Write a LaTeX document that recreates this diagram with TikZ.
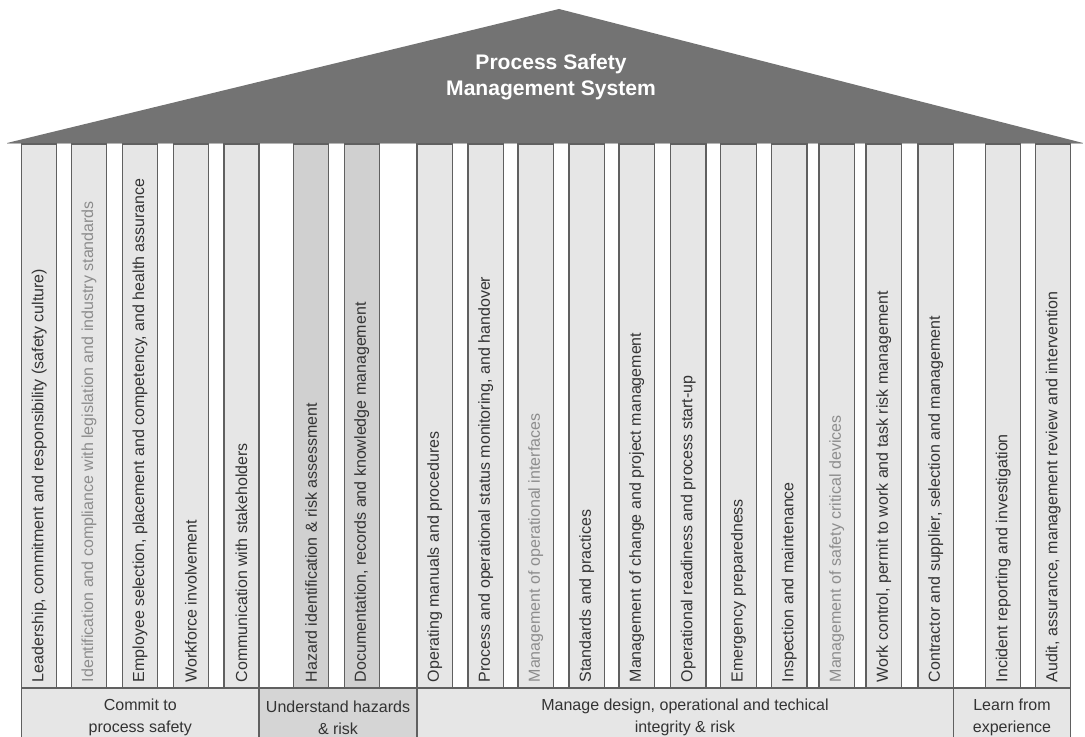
\documentclass[tikz,border=0pt]{standalone}
\usepackage{fontspec}
\setmainfont{Liberation Sans}
\definecolor{roofgray}{HTML}{737373}
\definecolor{roofedge}{HTML}{B4B4B4}
\definecolor{pillar}{HTML}{E6E6E6}
\definecolor{pillardark}{HTML}{D0D0D0}
\definecolor{banddark}{HTML}{D5D5D5}
\definecolor{edge}{HTML}{606060}
\definecolor{ink}{HTML}{333333}
\definecolor{faded}{HTML}{8C8C8C}
\begin{document}
\begin{tikzpicture}[x=0.75pt,y=-0.75pt,
  pillarbox/.style={draw=edge,line width=1.1pt},
  coltext/.style={rotate=90,anchor=west,inner sep=0pt,
    font=\fontsize{12}{14}\selectfont},
  bandbox/.style={draw=edge,line width=1.1pt},
  bandtext/.style={align=center,text=ink,inner sep=0pt,
    font=\fontsize{12}{16.5}\selectfont},
  rooftext/.style={align=center,text=white,inner sep=0pt,
    font=\bfseries\fontsize{15.8}{20}\selectfont}]
\useasboundingbox (0,0) rectangle (1085,737);

% roof
\fill[roofgray] (7,143) -- (559,9) -- (1083,143) -- cycle;
\draw[roofedge,line width=0.8pt] (7,143.5) -- (1083,143.5);
\node[rooftext] (title) at (551,77) {Process Safety\\Management System};

% pillars: left edge / width / fill / text colour / label
\foreach \x/\w/\fc/\tc/\lbl [count=\n] in {
  21.7/35/pillar/ink/{Leadership, commitment and responsibility (safety culture)},
  71.5/35/pillar/faded/{Identification and compliance with legislation and industry standards},
  122.5/35/pillar/ink/{Employee selection, placement and competency, and health assurance},
  173.3/35/pillar/ink/{Workforce involvement},
  224/35/pillar/ink/{Communication with stakeholders},
  293.7/35/pillardark/ink/{Hazard identification \& risk assessment},
  344.3/35/pillardark/ink/{Documentation, records and knowledge management},
  417/35.7/pillar/ink/{Operating manuals and procedures},
  467.9/35.7/pillar/ink/{Process and operational status monitoring, and handover},
  517.9/35.7/pillar/faded/{Management of operational interfaces},
  568.9/35.7/pillar/ink/{Standards and practices},
  618.9/35.7/pillar/ink/{Management of change and project management},
  670.4/35.7/pillar/ink/{Operational readiness and process start-up},
  720.7/35.7/pillar/ink/{Emergency preparedness},
  771.4/35.7/pillar/ink/{Inspection and maintenance},
  819/35.7/pillar/faded/{Management of safety critical devices},
  866/35.7/pillar/ink/{Work control, permit to work and task risk management},
  917.9/35.7/pillar/ink/{Contractor and supplier, selection and management},
  985.7/35/pillar/ink/{Incident reporting and investigation},
  1035.7/35/pillar/ink/{Audit, assurance, management review and intervention}}
{
  \draw[pillarbox,fill=\fc] (\x,144) rectangle (\x+\w,688);
  \node[coltext,text=\tc] (t\n) at (\x+\w/2,682.5) {\lbl};
}

% element groups along the base
\draw[bandbox,fill=pillar] (21.7,688) rectangle (259,738);
\node[bandtext] (g1) at (140.3,717.5) {Commit to\\process safety};
\draw[bandbox,fill=banddark] (259,688) rectangle (417,738);
\node[bandtext] (g2) at (338,717.5) {Understand hazards\\\& risk};
\draw[bandbox,fill=pillar] (417,688) rectangle (953.6,738);
\node[bandtext] (g3) at (685,717.5) {Manage design, operational and techical\\integrity \& risk};
\draw[bandbox,fill=pillar] (953.6,688) rectangle (1070.7,738);
\node[bandtext] (g4) at (1012,717.5) {Learn from\\experience};
\end{tikzpicture}
\end{document}
